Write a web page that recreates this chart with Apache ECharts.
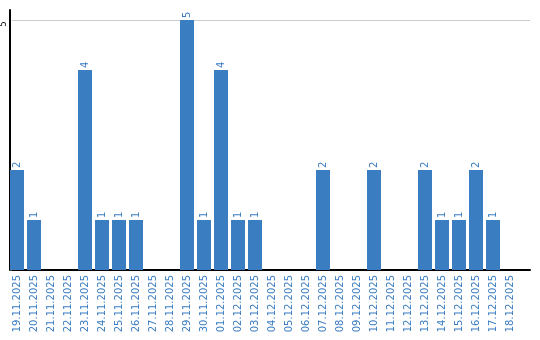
<!DOCTYPE html>
<html><head><meta charset="utf-8">
<script src="https://cdn.jsdelivr.net/npm/echarts@6/dist/echarts.min.js"></script>
<style>html,body{margin:0;padding:0;background:#fff}#c{width:540px;height:340px}</style>
</head><body><div id="c"></div>
<script>
var categories = ['19.11.2025','20.11.2025','21.11.2025','22.11.2025','23.11.2025','24.11.2025','25.11.2025','26.11.2025','27.11.2025','28.11.2025','29.11.2025','30.11.2025','01.12.2025','02.12.2025','03.12.2025','04.12.2025','05.12.2025','06.12.2025','07.12.2025','08.12.2025','09.12.2025','10.12.2025','11.12.2025','12.12.2025','13.12.2025','14.12.2025','15.12.2025','16.12.2025','17.12.2025','18.12.2025'];
var values = [2,1,0,0,4,1,1,1,0,0,5,1,4,1,1,0,0,0,2,0,0,2,0,0,2,1,1,2,1,0];
var yTicks = [5];
var blue = '#3b7dc1';
var font = 'DejaVu Sans';
var chart = echarts.init(document.getElementById('c'));
chart.setOption({
  animation: false,
  grid: [
    {left: 8.5, top: 10, width: 510, height: 260},
    {left: 10, top: 20, width: 520, height: 250}
  ],
  xAxis: [
    {type: 'category', gridIndex: 0, data: categories,
     axisLine: {show: false}, axisTick: {show: false},
     axisLabel: {rotate: 90, interval: 0, margin: 5, color: blue, fontFamily: font, fontSize: 10}},
    {type: 'value', gridIndex: 1, min: 0, max: 1,
     axisLine: {show: true, onZero: false, lineStyle: {color: '#000', width: 2}},
     axisTick: {show: false}, axisLabel: {show: false}, splitLine: {show: false}}
  ],
  yAxis: [
    {type: 'value', gridIndex: 0, min: 0, max: 5.2, offset: -1.5,
     axisLine: {show: true, lineStyle: {color: '#000', width: 2}},
     axisTick: {show: false}, axisLabel: {show: false}, splitLine: {show: false}},
    {type: 'value', gridIndex: 1, min: 0, max: 5, interval: 5,
     axisLine: {show: false},
     axisTick: {show: false},
     axisLabel: {rotate: 90, margin: 4, color: '#000', fontFamily: font, fontSize: 8,
       padding: [0, 8, 0, 0],
       formatter: function (v) { return yTicks.indexOf(v) >= 0 ? String(v) : ''; }},
     splitLine: {show: true, lineStyle: {color: ['transparent', '#cccccc'], width: 1}}}
  ],
  series: [{
    type: 'bar', xAxisIndex: 0, yAxisIndex: 0, data: values, barWidth: 14,
    itemStyle: {color: blue},
    label: {show: true, position: 'top', rotate: 90, align: 'left', verticalAlign: 'middle',
      distance: 2, color: blue, fontFamily: font, fontSize: 10,
      formatter: function (p) { return p.value ? String(p.value) : ''; }}
  }]
});
</script></body></html>
